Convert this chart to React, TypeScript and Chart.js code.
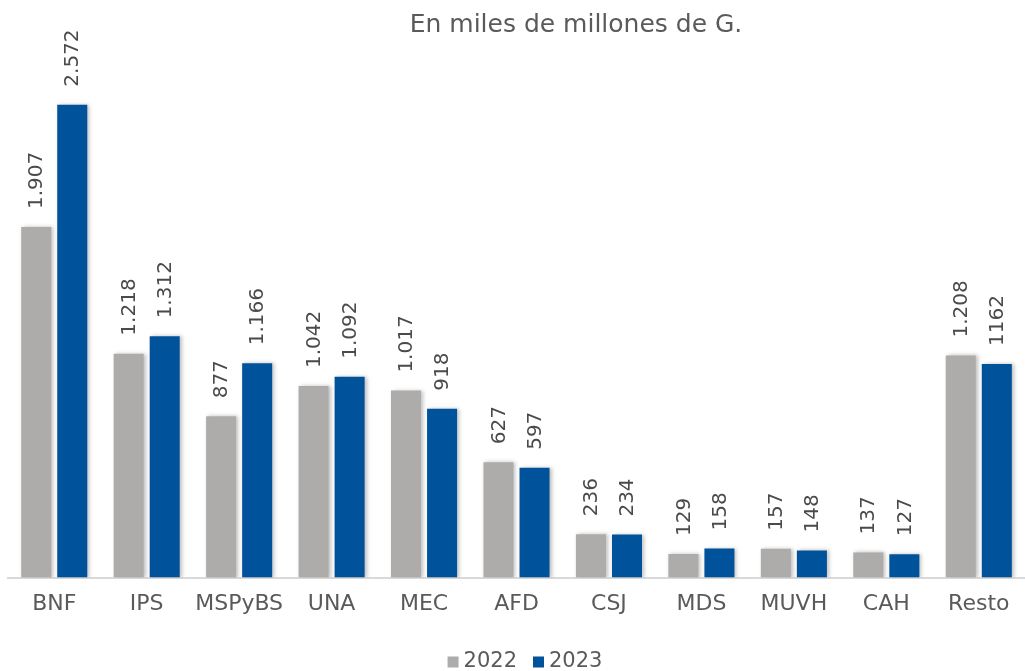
import React, { useEffect, useRef } from "react";
import { Chart, registerables } from "chart.js";

Chart.register(...registerables);

const categories = ["BNF", "IPS", "MSPyBS", "UNA", "MEC", "AFD", "CSJ", "MDS", "MUVH", "CAH", "Resto"];
const values2022 = [1907, 1218, 877, 1042, 1017, 627, 236, 129, 157, 137, 1208];
const values2023 = [2572, 1312, 1166, 1092, 918, 597, 234, 158, 148, 127, 1162];
const labels2022 = ["1.907", "1.218", "877", "1.042", "1.017", "627", "236", "129", "157", "137", "1.208"];
const labels2023 = ["2.572", "1.312", "1.166", "1.092", "918", "597", "234", "158", "148", "127", "1162"];
const seriesNames = ["2022", "2023"];
const titleText = "En miles de millones de G.";

const FONT = "'DejaVu Sans', sans-serif";
const GRAY = "#aeabab";
const BLUE = "#00529b";
const TEXT = "#5a5a5a";

export default function App() {
  const ref = useRef<HTMLCanvasElement | null>(null);

  useEffect(() => {
    if (!ref.current) return;
    const allLabels = [labels2022, labels2023];

    const shadowPlugin = {
      id: "barShadow",
      beforeDatasetDraw(chart: any) {
        const ctx = chart.ctx;
        ctx.save();
        ctx.shadowColor = "rgba(0,0,0,0.25)";
        ctx.shadowBlur = 4;
        ctx.shadowOffsetX = 2;
        ctx.shadowOffsetY = 0;
      },
      afterDatasetDraw(chart: any) {
        chart.ctx.restore();
      },
    };

    const labelPlugin = {
      id: "valueLabels",
      afterDatasetsDraw(chart: any) {
        const ctx = chart.ctx;
        ctx.save();
        ctx.font = `20px ${FONT}`;
        ctx.fillStyle = "#4a4a4a";
        ctx.textAlign = "left";
        ctx.textBaseline = "middle";
        chart.data.datasets.forEach((_: any, di: number) => {
          const meta = chart.getDatasetMeta(di);
          meta.data.forEach((bar: any, i: number) => {
            ctx.save();
            ctx.translate(bar.x + 1, bar.y - 18);
            ctx.rotate(-Math.PI / 2);
            ctx.fillText(allLabels[di][i], 0, 0);
            ctx.restore();
          });
        });
        ctx.restore();
      },
    };

    const titlePlugin = {
      id: "topTitle",
      afterDraw(chart: any) {
        const ctx = chart.ctx;
        ctx.save();
        ctx.font = `25px ${FONT}`;
        ctx.fillStyle = TEXT;
        ctx.textAlign = "center";
        ctx.textBaseline = "middle";
        ctx.fillText(titleText, 576, 25);
        ctx.restore();
      },
    };

    const legendPlugin = {
      id: "bottomLegend",
      afterDraw(chart: any) {
        const ctx = chart.ctx;
        ctx.save();
        ctx.font = `21px ${FONT}`;
        ctx.textAlign = "left";
        ctx.textBaseline = "middle";
        const ds = chart.data.datasets;
        const box = 11, gap = 5, itemGap = 16;
        let total = 0;
        ds.forEach((d: any, i: number) => {
          total += box + gap + ctx.measureText(d.label).width + (i < ds.length - 1 ? itemGap : 0);
        });
        let x = 525 - total / 2;
        const y = 662;
        ds.forEach((d: any) => {
          ctx.fillStyle = d.backgroundColor;
          ctx.fillRect(x, y - box / 2, box, box);
          x += box + gap;
          ctx.fillStyle = TEXT;
          ctx.fillText(d.label, x, y);
          x += ctx.measureText(d.label).width + itemGap;
        });
        ctx.restore();
      },
    };

    const chart = new Chart(ref.current, {
      type: "bar",
      data: {
        labels: categories,
        datasets: [
          { label: seriesNames[0], data: values2022, backgroundColor: GRAY },
          { label: seriesNames[1], data: values2023, backgroundColor: BLUE },
        ],
      },
      options: {
        responsive: false,
        animation: false,
        layout: { padding: { left: 8, right: 0, top: 26, bottom: 41 } },
        datasets: {
          bar: { categoryPercentage: 0.78, barPercentage: 0.833 },
        },
        scales: {
          x: {
            grid: { display: false, drawTicks: false },
            border: { color: "#d9d9d9", width: 2 },
            ticks: {
              color: TEXT,
              font: { family: FONT, size: 22 },
              padding: 13,
              maxRotation: 0,
              minRotation: 0,
              autoSkip: false,
            },
          },
          y: { display: false, min: 0, max: 3000 },
        },
        plugins: {
          legend: { display: false },
          title: { display: false },
          tooltip: { enabled: false },
        },
      },
      plugins: [shadowPlugin, labelPlugin, titlePlugin, legendPlugin],
    });
    return () => chart.destroy();
  }, []);

  return (
    <div style={{ position: "absolute", left: 0, top: 0, width: 1025, height: 671 }}>
      <canvas ref={ref} width={1025} height={671} />
    </div>
  );
}
